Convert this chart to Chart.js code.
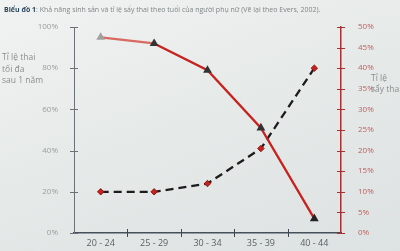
<!DOCTYPE html>
<html>
<head>
<meta charset="utf-8">
<script src="https://cdn.jsdelivr.net/npm/chart.js@4"></script>
<style>
  html, body { margin: 0; padding: 0; }
  body { width: 400px; height: 251px; overflow: hidden; position: relative;
         background: linear-gradient(160deg, #f1f3f2 0%, #e6eae9 45%, #dde2e2 100%);
         font-family: "Open Sans", "Noto Sans", sans-serif; }
  #wrap { position: absolute; left: 0; top: 0; width: 400px; height: 251px; }
  .lbl { position: absolute; color: #8a8e8f; font-size: 8.5px; line-height: 11.5px; white-space: nowrap; }
  #title { left: 4px; top: 4px; font-size: 7px; color: #808587; }
  #title b { color: #2d4660; }
  #ytitle { left: 2px; top: 51px; }
  #y2title { left: 371px; top: 72px; line-height: 11px; }
</style>
</head>
<body>
<div id="wrap"><canvas id="chart" width="400" height="251"></canvas></div>
<div class="lbl" id="title"><b>Biểu đồ 1</b>: Khả năng sinh sản và tỉ lệ sẩy thai theo tuổi của người phụ nữ (Vẽ lại theo Evers, 2002).</div>
<div class="lbl" id="ytitle">Tỉ lệ thai<br>tối đa<br>sau 1 năm</div>
<div class="lbl" id="y2title">Tỉ lệ<br>sẩy thai</div>
<script>
// age groups and the two series
const AGES = ["20 - 24", "25 - 29", "30 - 34", "35 - 39", "40 - 44"];
const FERTILITY = [95, 92, 79, 51, 7];        // left axis, %
const MISCARRIAGE = [10, 10, 12, 20.5, 40];   // right axis, %
const LEFT_TICKS = [0, 20, 40, 60, 80, 100];
const RIGHT_TICKS = [0, 5, 10, 15, 20, 25, 30, 35, 40, 45, 50];

const RED = "#c8221f";

// short tick marks that cross the axis lines
const crossTicks = {
  id: "crossTicks",
  afterDraw(chart){
    const { ctx, scales } = chart;
    const x = scales.x, y = scales.y, y2 = scales.y2;
    ctx.save();
    ctx.lineWidth = 1;
    ctx.strokeStyle = "#6b7178";
    LEFT_TICKS.forEach(v => {
      const py = Math.round(y.getPixelForValue(v)) + 0.5;
      ctx.beginPath(); ctx.moveTo(x.left - 4, py); ctx.lineTo(x.left + 4, py); ctx.stroke();
    });
    ctx.strokeStyle = "#a83030";
    RIGHT_TICKS.forEach(v => {
      const py = Math.round(y2.getPixelForValue(v)) + 0.5;
      ctx.beginPath(); ctx.moveTo(x.right - 4, py); ctx.lineTo(x.right + 4, py); ctx.stroke();
    });
    ctx.strokeStyle = "#3e4852";
    for(let i=0;i<AGES.length-1;i++){
      const px = Math.round((x.getPixelForValue(i) + x.getPixelForValue(i+1))/2) + 0.5;
      ctx.beginPath(); ctx.moveTo(px, y.bottom - 4); ctx.lineTo(px, y.bottom + 4); ctx.stroke();
    }
    ctx.restore();
  }
};

new Chart(document.getElementById("chart"), {
  type: "line",
  data: {
    labels: AGES,
    datasets: [
      {
        label: "fertility",
        data: FERTILITY,
        yAxisID: "y",
        borderColor: RED,
        borderWidth: 2.3,
        pointStyle: "triangle",
        pointRadius: 2.8,
        pointBackgroundColor: ["#a0a0a0", "#333", "#333", "#333", "#222"],
        pointBorderColor: ["#a0a0a0", "#333", "#333", "#333", "#222"],
        segment: { borderColor: c => c.p0DataIndex === 0 ? "#d86a62" : RED },
        tension: 0
      },
      {
        label: "miscarriage",
        data: MISCARRIAGE,
        yAxisID: "y2",
        borderColor: "#1c1c1c",
        borderWidth: 2.3,
        borderDash: [8, 5],
        pointStyle: "rectRot",
        pointRadius: 3.2,
        pointBackgroundColor: RED,
        pointBorderColor: "#8a1512",
        pointBorderWidth: 1,
        tension: 0
      }
    ]
  },
  options: {
    responsive: false,
    animation: false,
    layout: { padding: { top: 27, bottom: 0, left: 0, right: 0 } },
    plugins: { legend: { display: false }, tooltip: { enabled: false } },
    scales: {
      x: {
        offset: true,
        grid: { display: false, tickLength: 0 },
        border: { color: "#46505a", width: 1.5 },
        ticks: { color: "#5a5f63", font: { size: 9, family: "Open Sans" }, padding: 5 },
        afterFit(s){ s.height = 18; }
      },
      y: {
        position: "left",
        min: 0, max: 100,
        afterBuildTicks(s){ s.ticks = LEFT_TICKS.map(v => ({ value: v })); },
        grid: { display: false },
        border: { color: "#6b7178", width: 1 },
        ticks: { color: "#9a9ea0", font: { size: 8, family: "Open Sans" }, padding: 8, callback: v => v + "%" },
        afterFit(s){ s.width = 74; }
      },
      y2: {
        position: "right",
        min: 0, max: 50,
        afterBuildTicks(s){ s.ticks = RIGHT_TICKS.map(v => ({ value: v })); },
        grid: { display: false },
        border: { color: "#a83030", width: 1.5 },
        ticks: { color: "#c06060", font: { size: 8, family: "Open Sans" }, padding: 9, callback: v => v + "%" },
        afterFit(s){ s.width = 59; }
      }
    }
  },
  plugins: [crossTicks]
});
</script>
</body>
</html>
